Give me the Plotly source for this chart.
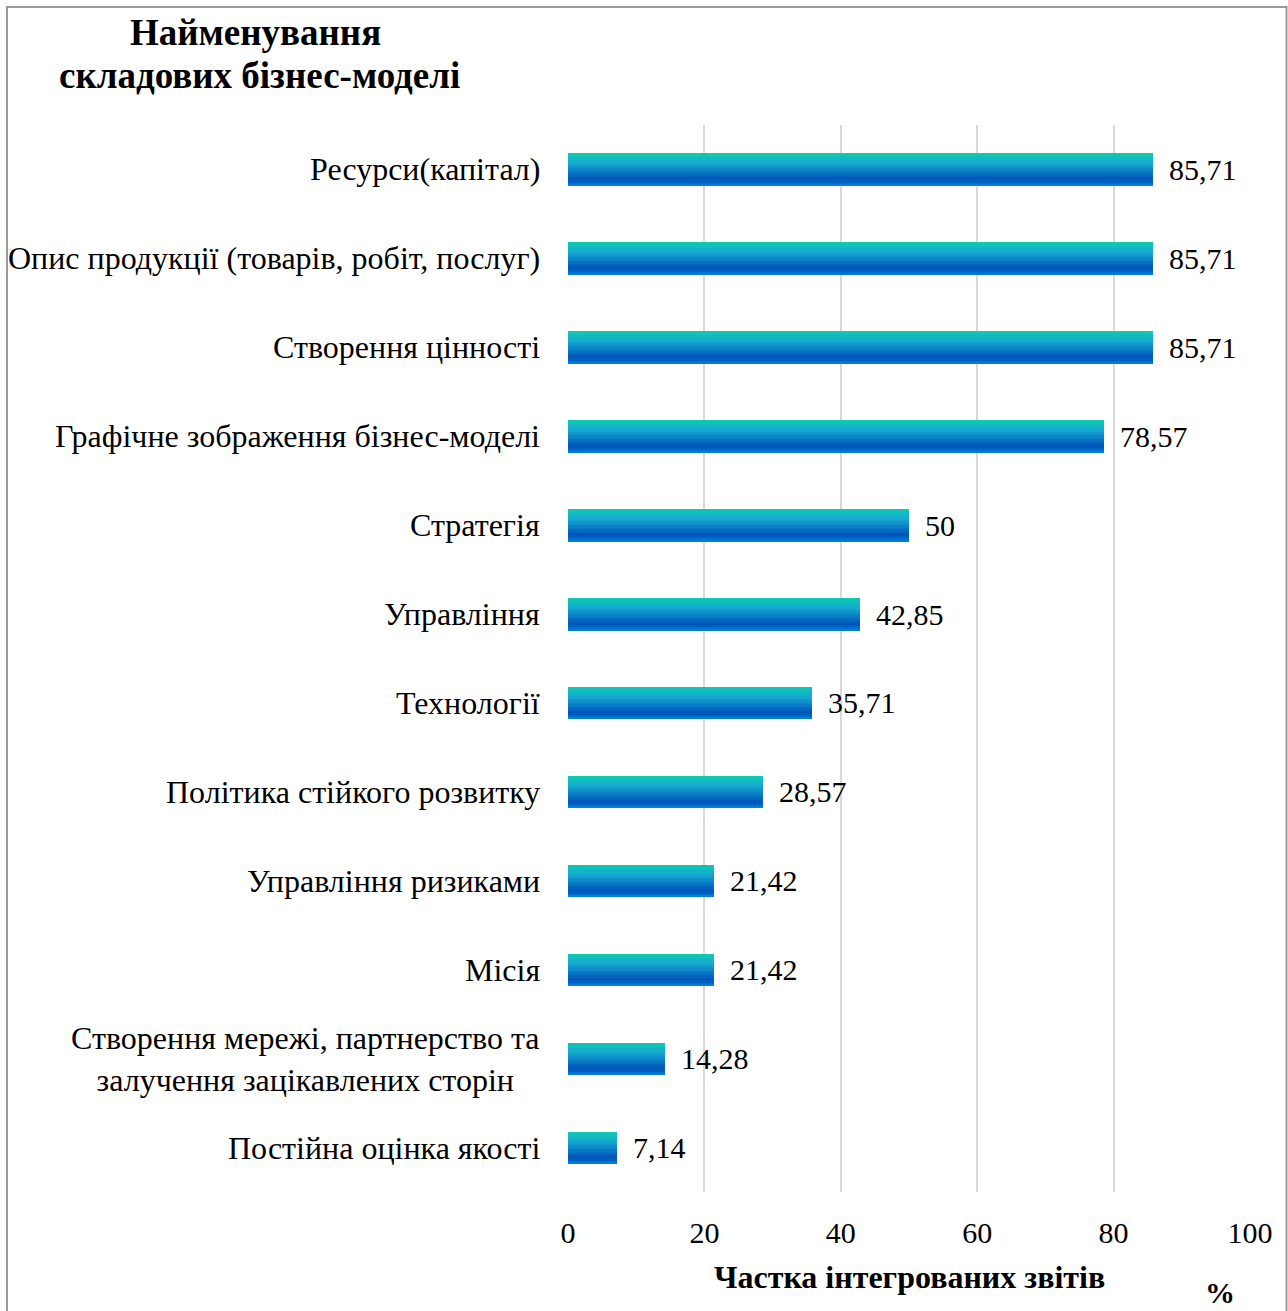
import plotly.graph_objects as go

categories = [
    "Ресурси(капітал)",
    "Опис продукції (товарів, робіт, послуг)",
    "Створення цінності",
    "Графічне зображення бізнес-моделі",
    "Стратегія",
    "Управління",
    "Технології",
    "Політика стійкого розвитку",
    "Управління ризиками",
    "Місія",
    "Створення мережі, партнерство та<br>залучення зацікавлених сторін",
    "Постійна оцінка якості",
]
values = [85.71, 85.71, 85.71, 78.57, 50, 42.85, 35.71, 28.57, 21.42, 21.42, 14.28, 7.14]
value_labels = ["85,71", "85,71", "85,71", "78,57", "50", "42,85", "35,71", "28,57", "21,42", "21,42", "14,28", "7,14"]
x_ticks = [0, 20, 40, 60, 80, 100]

# bottom-to-top order for plotting
cats = categories[::-1]
vals = values[::-1]
labs = value_labels[::-1]
ypos = list(range(len(cats)))

FONT = "Liberation Serif"
BAR_W = 0.36
N = 24

stops = [(0.0, (12, 203, 176)), (0.3, (22, 170, 208)), (0.55, (12, 128, 200)),
         (0.8, (0, 84, 184)), (0.9, (0, 98, 196)), (1.0, (0, 136, 216))]

def col(t):
    for (t0, c0), (t1, c1) in zip(stops[:-1], stops[1:]):
        if t0 <= t <= t1:
            f = (t - t0) / (t1 - t0)
            return "rgb(%d,%d,%d)" % tuple(round(a + (b - a) * f) for a, b in zip(c0, c1))
    return "rgb(%d,%d,%d)" % stops[-1][1]

fig = go.Figure()
for i in range(N):
    t = i / N
    w = BAR_W * (1 - t)
    fig.add_trace(go.Bar(
        x=vals, y=ypos, orientation="h",
        width=w, offset=-BAR_W / 2,
        marker=dict(color=col((i + 0.5) / N), line=dict(width=0)),
        hoverinfo="skip", showlegend=False,
    ))

for yp, v, lab in zip(ypos, vals, labs):
    fig.add_annotation(x=v, y=yp, xref="x", yref="y", text=lab, showarrow=False,
                       xanchor="left", yanchor="middle", xshift=14,
                       font=dict(family=FONT, size=30, color="#000"))

for yp, c in zip(ypos, cats):
    fig.add_annotation(x=0, y=yp, xref="x", yref="y", text=c, showarrow=False,
                       xanchor="right", yanchor="middle", align="center", xshift=-26,
                       font=dict(family=FONT, size=32, color="#000"))

def px_x(p):
    return (p - 568) / 682

def px_y(p):
    return (1192 - p) / 1067

fig.add_annotation(x=px_x(255), y=px_y(33), xref="paper", yref="paper",
                   text="<b>Найменування</b>", showarrow=False,
                   xanchor="center", yanchor="middle",
                   font=dict(family=FONT, size=37, color="#000"))
fig.add_annotation(x=px_x(259), y=px_y(75), xref="paper", yref="paper",
                   text="<b>складових бізнес-моделі</b>", showarrow=False,
                   xanchor="center", yanchor="middle",
                   font=dict(family=FONT, size=37, color="#000"))
fig.add_annotation(x=px_x(909), y=px_y(1277), xref="paper", yref="paper",
                   text="<b>Частка інтегрованих звітів</b>", showarrow=False,
                   xanchor="center", yanchor="middle",
                   font=dict(family=FONT, size=32, color="#000"))
fig.add_annotation(x=px_x(1220), y=px_y(1292), xref="paper", yref="paper",
                   text="<b>%</b>", showarrow=False,
                   xanchor="center", yanchor="middle",
                   font=dict(family=FONT, size=30, color="#000"))

fig.add_shape(type="rect", xref="paper", yref="paper",
              x0=px_x(7), x1=px_x(1286.5),
              y0=px_y(1330), y1=px_y(7),
              line=dict(color="#9a9a9a", width=2))

fig.update_layout(
    width=1288, height=1311,
    margin=dict(l=568, r=38, t=125, b=119),
    plot_bgcolor="white", paper_bgcolor="white",
    barmode="overlay", bargap=0,
    font=dict(family=FONT, color="#000"),
    xaxis=dict(range=[0, 100], tickvals=x_ticks, showgrid=True, gridcolor="#d9d9d9",
               gridwidth=2, zeroline=False, showline=False,
               tickfont=dict(family=FONT, size=30, color="#000"),
               ticks="", ticklabelstandoff=20),
    yaxis=dict(range=[-0.5, len(cats) - 0.5], showticklabels=False, showgrid=False,
               zeroline=False, showline=False, ticks=""),
)

fig.write_html("out.html", config={"displayModeBar": False},
               post_script="document.body.style.margin='0';document.body.style.overflow='hidden';")
